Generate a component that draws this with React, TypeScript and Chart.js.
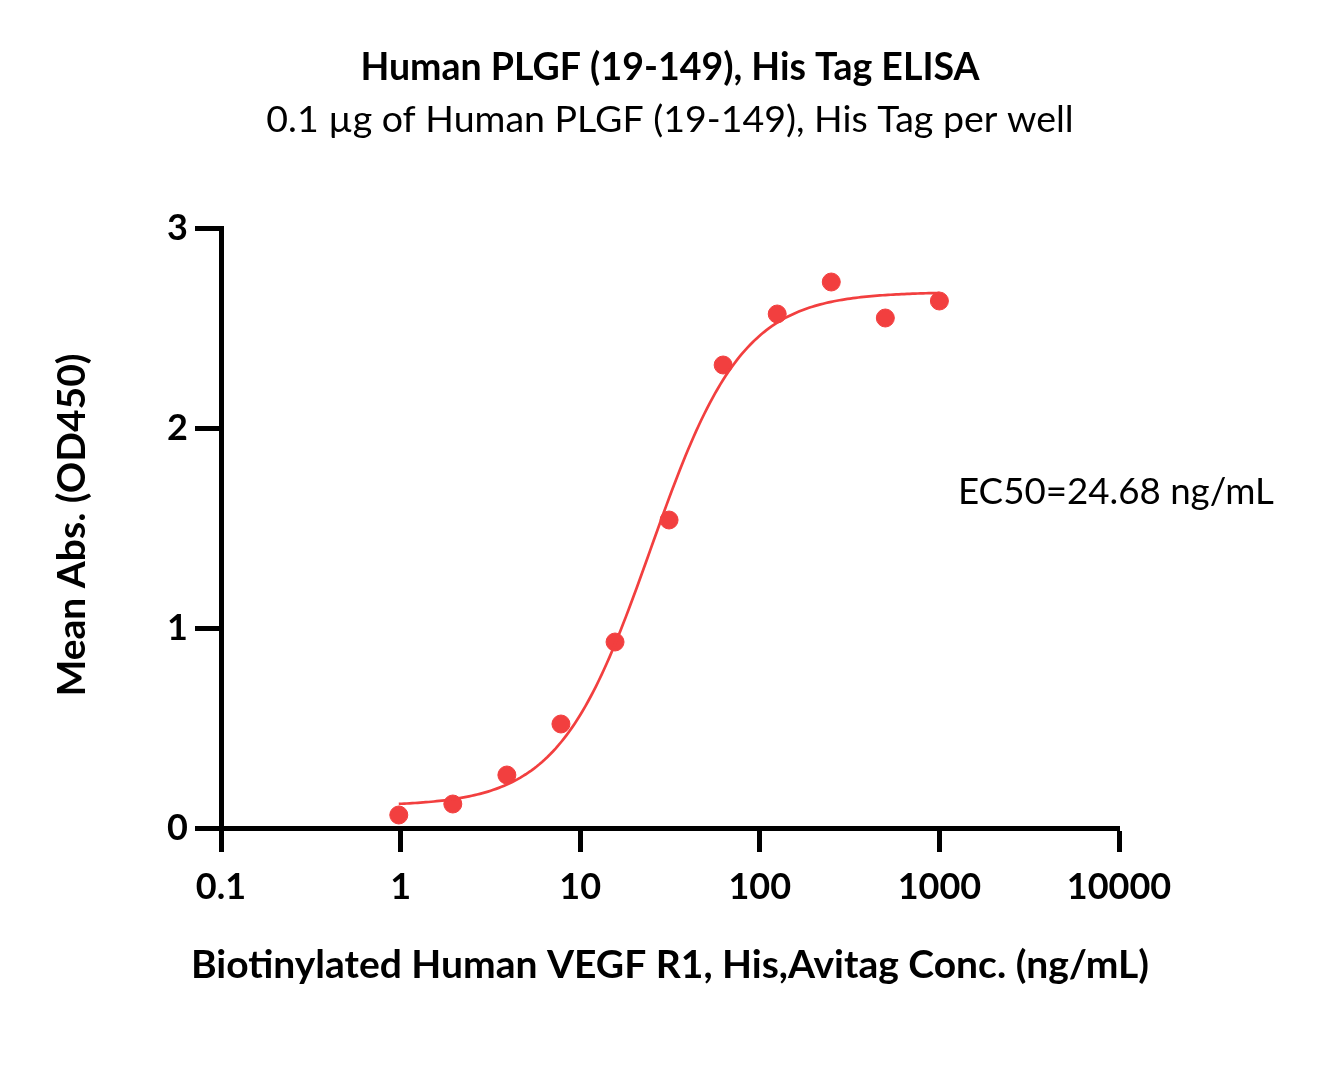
import React, { useEffect, useRef } from "react";
import { Chart, registerables } from "chart.js";

Chart.register(...registerables);

const TITLE = "Human PLGF (19-149), His Tag ELISA";
const SUBTITLE = "0.1 µg of Human PLGF (19-149), His Tag per well";
const X_TITLE = "Biotinylated Human VEGF R1, His,Avitag Conc. (ng/mL)";
const Y_TITLE = "Mean Abs. (OD450)";
const EC50_LABEL = "EC50=24.68 ng/mL";

const concentrations = [0.977, 1.953, 3.906, 7.813, 15.63, 31.25, 62.5, 125, 250, 500, 1000];
const absorbance = [0.065, 0.12, 0.265, 0.52, 0.93, 1.54, 2.315, 2.57, 2.73, 2.55, 2.635];

const xTicks = [0.1, 1, 10, 100, 1000, 10000];
const yTicks = [0, 1, 2, 3];

// 4PL fit parameters (as reported/visible on the figure)
const FIT_BOTTOM = 0.11;
const FIT_TOP = 2.68;
const FIT_EC50 = 24.68;
const FIT_HILL = 1.7;

const FONT = "Lato, 'Noto Sans', sans-serif";
const RED = "#F23F3F";

export default function App() {
  const ref = useRef<HTMLCanvasElement | null>(null);

  useEffect(() => {
    const canvas = ref.current;
    if (!canvas) return;

    const fit: { x: number; y: number }[] = [];
    const lo = Math.log10(concentrations[0]);
    const hi = Math.log10(concentrations[concentrations.length - 1]);
    for (let i = 0; i <= 200; i++) {
      const x = Math.pow(10, lo + ((hi - lo) * i) / 200);
      const y = FIT_BOTTOM + (FIT_TOP - FIT_BOTTOM) / (1 + Math.pow(FIT_EC50 / x, FIT_HILL));
      fit.push({ x, y });
    }

    const textPlugin = {
      id: "texts",
      afterDraw(chart: any) {
        const ctx = chart.ctx;
        const area = chart.chartArea;
        ctx.save();
        ctx.fillStyle = "#000";
        ctx.textAlign = "center";
        ctx.textBaseline = "middle";
        ctx.font = `bold 37.5px ${FONT}`;
        ctx.fillText(TITLE, 670, 68);
        ctx.font = `37.5px ${FONT}`;
        ctx.fillText(SUBTITLE, 670, 120);
        ctx.font = `bold 39px ${FONT}`;
        ctx.fillText(X_TITLE, 670, 965);
        ctx.save();
        ctx.translate(72, 525);
        ctx.rotate(-Math.PI / 2);
        ctx.fillText(Y_TITLE, 0, 0);
        ctx.restore();
        ctx.textAlign = "left";
        ctx.font = `36.7px ${FONT}`;
        ctx.fillText(EC50_LABEL, 958, 492);
        ctx.restore();
      },
    };

    const chart = new Chart(canvas, {
      type: "scatter",
      data: {
        datasets: [
          {
            type: "line",
            data: fit,
            borderColor: RED,
            borderWidth: 2.7,
            pointRadius: 0,
            fill: false,
            tension: 0,
          } as any,
          {
            data: concentrations.map((c, i) => ({ x: c, y: absorbance[i] })),
            backgroundColor: RED,
            borderColor: RED,
            pointRadius: 9,
            pointHoverRadius: 9,
          },
        ],
      },
      options: {
        animation: false,
        responsive: false,
        layout: { padding: { left: 0, top: 228, right: 199, bottom: 0 } },
        plugins: {
          legend: { display: false },
          tooltip: { enabled: false },
          title: { display: false },
        },
        scales: {
          x: {
            type: "logarithmic",
            min: 0.1,
            max: 10000,
            afterBuildTicks(scale: any) {
              scale.ticks = xTicks.map((v) => ({ value: v }));
            },
            afterFit(scale: any) {
              scale.height = 255;
            },
            ticks: {
              autoSkip: false,
              maxRotation: 0,
              padding: 14,
              color: "#000",
              font: { family: FONT, size: 36, weight: "bold" },
              callback: (v: any) => String(v),
            },
            grid: {
              drawOnChartArea: false,
              drawTicks: true,
              tickLength: 24,
              tickWidth: 5,
              tickColor: "#000",
            },
            border: { display: true, color: "#000", width: 5 },
          },
          y: {
            type: "linear",
            min: 0,
            max: 3,
            afterBuildTicks(scale: any) {
              scale.ticks = yTicks.map((v) => ({ value: v }));
            },
            afterFit(scale: any) {
              scale.width = 221;
            },
            ticks: {
              padding: 7,
              color: "#000",
              font: { family: FONT, size: 36, weight: "bold" },
              callback: (v: any) => String(v),
            },
            grid: {
              drawOnChartArea: false,
              drawTicks: true,
              tickLength: 26,
              tickWidth: 5,
              tickColor: "#000",
            },
            border: { display: true, color: "#000", width: 5 },
          },
        },
      },
      plugins: [textPlugin],
    } as any);

    return () => chart.destroy();
  }, []);

  return (
    <div style={{ position: "absolute", left: 0, top: 0, width: 1318, height: 1083, background: "#fff" }}>
      <canvas ref={ref} width={1318} height={1083} />
    </div>
  );
}
